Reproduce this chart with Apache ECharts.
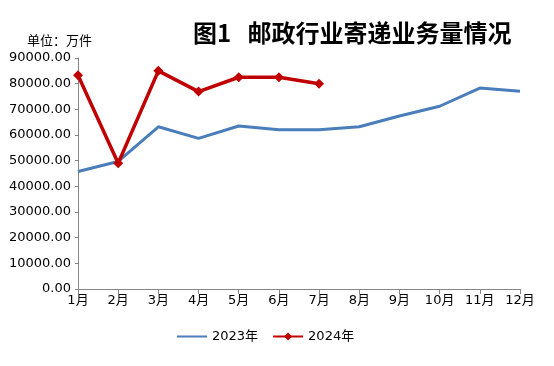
<!DOCTYPE html>
<html><head><meta charset="utf-8">
<script src="https://cdn.jsdelivr.net/npm/echarts@6/dist/echarts.min.js"></script>
<style>html,body{margin:0;padding:0;background:#fff}#c{width:554px;height:366px}</style>
</head><body><div id="c"></div>
<script>
const categories = ['1月','2月','3月','4月','5月','6月','7月','8月','9月','10月','11月','12月'];
const series2023 = [45800, 49700, 63200, 58700, 63500, 62000, 62000, 63200, 67400, 71200, 78300, 77000];
const series2024 = [83300, 49000, 85000, 76900, 82500, 82500, 80000];
const yTicks = { min: 0, max: 90000, interval: 10000 };
const font = 'DejaVu Sans, "Noto Sans CJK SC", sans-serif';
const chart = echarts.init(document.getElementById('c'));
chart.setOption({
  animation: false,
  title: [
    { text: '图1   邮政行业寄递业务量情况', left: 193, top: 21, padding: 0,
      textStyle: { fontFamily: '"Noto Sans CJK SC", sans-serif', fontSize: 24, fontWeight: 'bold', color: '#000' } },
    { text: '单位：万件', left: 27, top: 34, padding: 0,
      textStyle: { fontFamily: '"Noto Sans CJK SC", sans-serif', fontSize: 13, fontWeight: 'normal', color: '#000' } }
  ],
  grid: { left: 78, right: 34, top: 58, bottom: 77, containLabel: false },
  legend: {
    bottom: 18, left: 171, itemWidth: 30, itemHeight: 10, itemGap: 14,
    textStyle: { fontFamily: font, fontSize: 13, color: '#000' },
    data: [{ name: '2023年', itemStyle: { opacity: 0 } }, { name: '2024年' }]
  },
  xAxis: {
    type: 'category', data: categories, boundaryGap: false,
    axisLine: { lineStyle: { color: '#868686', width: 1 } },
    axisTick: { show: true, alignWithLabel: true, length: 5, lineStyle: { color: '#868686' } },
    axisLabel: { fontFamily: font, fontSize: 13, color: '#000', margin: 5 }
  },
  yAxis: {
    type: 'value', min: yTicks.min, max: yTicks.max, interval: yTicks.interval,
    axisLine: { show: true, lineStyle: { color: '#868686', width: 1 } },
    axisTick: { show: true, length: 3, lineStyle: { color: '#868686' } },
    splitLine: { show: false },
    axisLabel: { fontFamily: font, fontSize: 13, color: '#000', margin: 7,
      formatter: v => v.toFixed(2) }
  },
  series: [
    { name: '2023年', type: 'line', data: series2023, symbol: 'none',
      lineStyle: { color: '#4A7EBB', width: 3 }, itemStyle: { color: '#4A7EBB' } },
    { name: '2024年', type: 'line', data: series2024, symbol: 'diamond', symbolSize: 10,
      lineStyle: { color: '#C00000', width: 3.5 }, itemStyle: { color: '#C00000' } }
  ]
});
</script></body></html>
